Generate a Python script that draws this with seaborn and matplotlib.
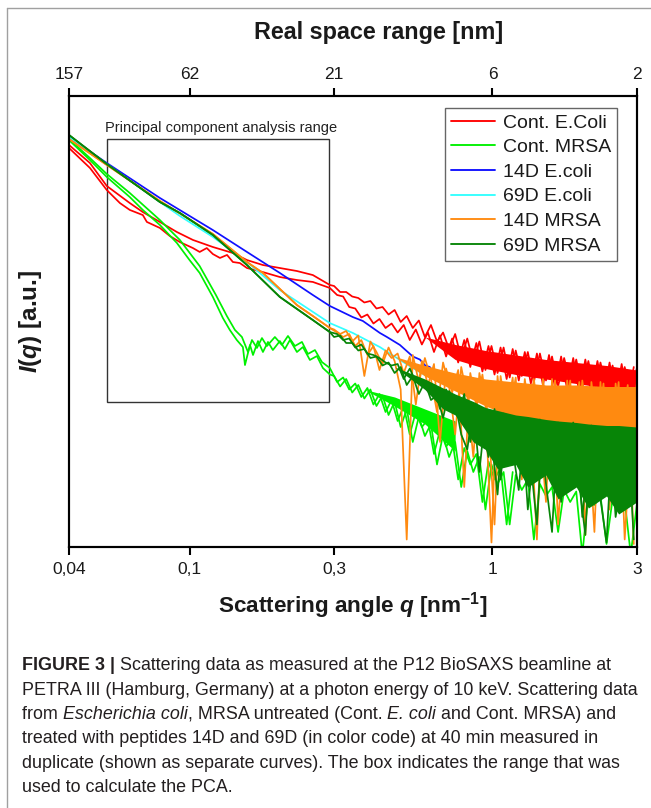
import numpy as np
import pandas as pd
import seaborn as sns
import matplotlib
matplotlib.use("Agg")
import matplotlib.pyplot as plt
from matplotlib import font_manager
from matplotlib.patches import Rectangle
from matplotlib.lines import Line2D
from matplotlib.ticker import NullLocator

# ---------------- data (q in nm^-1, intensities as log10 I, arbitrary units) ----------------
CONDITIONS = ["Cont. E.Coli", "Cont. MRSA", "14D E.coli", "69D E.coli", "14D MRSA", "69D MRSA"]
COLORS = ["#ff0000", "#00f000", "#1010ff", "#33ffff", "#ff8a10", "#078507"]

# shared high-q sampling grids (noisy region)
Q_GRID_A = [0.300, 0.3141, 0.3289, 0.3444, 0.3606, 0.3776, 0.3954, 0.4140, 0.4335, 0.4539,
            0.4753, 0.4977, 0.5211, 0.5457, 0.5714, 0.5983, 0.6265, 0.6560, 0.6869, 0.7192,
            0.7531, 0.7886, 0.8257, 0.8646, 0.9053, 0.9480, 0.9926, 1.0394, 1.0883, 1.1396,
            1.1933, 1.2495, 1.3083, 1.3699, 1.4344, 1.5020, 1.5727, 1.6468, 1.7243, 1.8055,
            1.8905, 1.9796, 2.0728, 2.1704, 2.2726, 2.3797, 2.4917, 2.6091, 2.7319, 2.8606,
            2.9953]
Q_GRID_B = [0.3070, 0.3214, 0.3366, 0.3524, 0.3690, 0.3864, 0.4046, 0.4236, 0.4436, 0.4645,
            0.4864, 0.5093, 0.5333, 0.5584, 0.5847, 0.6122, 0.6411, 0.6713, 0.7029, 0.7360,
            0.7706, 0.8069, 0.8449, 0.8847, 0.9264, 0.9701, 1.0157, 1.0636, 1.1137, 1.1661,
            1.2211, 1.2786, 1.3388, 1.4018, 1.4678, 1.5370, 1.6094, 1.6852, 1.7645, 1.8476,
            1.9346, 2.0257, 2.1211, 2.2210, 2.3256, 2.4352, 2.5498, 2.6699, 2.7956, 2.9273]

# Cont. E.coli, replicate a
Q_ECOLI_A_LOW = [0.040, 0.0469, 0.0533, 0.0635, 0.0701, 0.0798, 0.0908, 0.1026, 0.1194, 0.139,
                 0.1547, 0.1745, 0.1986, 0.226, 0.2553, 0.2904]
LOGI_ECOLI_A_LOW = [-0.32, -0.44, -0.593, -0.707, -0.767, -0.833, -0.90, -0.953, -1.0, -1.04,
                    -1.087, -1.12, -1.14, -1.16, -1.187, -1.253]
LOGI_ECOLI_A_HIGH = [-1.26, -1.30, -1.30, -1.33, -1.34, -1.37, -1.36, -1.41, -1.40, -1.45,
                     -1.42, -1.50, -1.46, -1.54, -1.49, -1.60, -1.52, -1.63, -1.57, -1.68,
                     -1.58, -1.74, -1.61, -1.77, -1.63, -1.82, -1.66, -1.84, -1.67, -1.87,
                     -1.69, -1.86, -1.70, -1.90, -1.71, -1.89, -1.73, -1.93, -1.74, -1.91,
                     -1.75, -1.94, -1.76, -1.96, -1.77, -1.95, -1.79, -1.98, -1.80, -1.97,
                     -1.81]
# Cont. E.coli, replicate b
Q_ECOLI_B_LOW = [0.040, 0.0469, 0.0533, 0.0589, 0.0635, 0.0701, 0.0723, 0.0798, 0.0861, 0.0929,
                 0.1026, 0.108, 0.1140, 0.1194, 0.126, 0.1330, 0.139, 0.1466, 0.1547, 0.1745,
                 0.1986, 0.226, 0.2553, 0.2904]
LOGI_ECOLI_B_LOW = [-0.34, -0.473, -0.62, -0.707, -0.753, -0.787, -0.833, -0.873, -0.927, -0.967,
                    -1.007, -1.033, -1.007, -1.047, -1.073, -1.053, -1.10, -1.107, -1.14, -1.167,
                    -1.20, -1.22, -1.233, -1.273]
LOGI_ECOLI_B_HIGH = [-1.32, -1.33, -1.40, -1.41, -1.47, -1.45, -1.51, -1.48, -1.54, -1.51,
                     -1.57, -1.52, -1.62, -1.55, -1.65, -1.57, -1.70, -1.59, -1.73, -1.61,
                     -1.77, -1.62, -1.80, -1.64, -1.83, -1.66, -1.85, -1.67, -1.88, -1.68,
                     -1.89, -1.70, -1.91, -1.71, -1.92, -1.72, -1.94, -1.73, -1.95, -1.74,
                     -1.97, -1.75, -1.98, -1.76, -1.99, -1.77, -2.01, -1.78, -2.02, -1.80]

# Cont. MRSA, replicate a
Q_MRSA_A_LOW = [0.0400, 0.0469, 0.0533, 0.0635, 0.0701, 0.0798, 0.0908, 0.1000, 0.1080, 0.1194,
                0.1288, 0.1358, 0.1432, 0.1500, 0.1524, 0.1583, 0.1620, 0.1682, 0.1747, 0.1815,
                0.1884, 0.1987, 0.2064, 0.2145, 0.2262, 0.2367, 0.2496, 0.2633, 0.2756, 0.2906]
LOGI_MRSA_A_LOW = [-0.287, -0.42, -0.533, -0.667, -0.753, -0.853, -0.973, -1.087, -1.173, -1.333,
                   -1.473, -1.553, -1.62, -1.667, -1.787, -1.653, -1.72, -1.627, -1.70, -1.633,
                   -1.687, -1.627, -1.68, -1.62, -1.70, -1.667, -1.753, -1.727, -1.807, -1.85]
LOGI_MRSA_A_HIGH = [-1.86, -1.93, -1.88, -1.97, -1.92, -2.01, -1.95, -2.06, -1.99, -2.12,
                    -2.03, -2.20, -2.08, -2.30, -2.13, -2.26, -2.18, -2.45, -2.25, -2.40,
                    -2.30, -2.60, -2.36, -2.50, -2.40, -2.75, -2.45, -2.58, -2.50, -2.85,
                    -2.52, -2.62, -2.55, -2.95, -2.58, -2.66, -2.60, -2.90, -2.62, -2.70,
                    -2.63, -3.05, -2.65, -2.72, -2.66, -2.98, -2.68, -2.75, -2.69, -3.05,
                    -2.72]
# Cont. MRSA, replicate b
Q_MRSA_B_LOW = [0.0400, 0.0469, 0.0533, 0.0635, 0.0798, 0.0929, 0.1080, 0.1222, 0.1328, 0.1412,
                0.1489, 0.1559, 0.1607, 0.1669, 0.1734, 0.1801, 0.1913, 0.2018, 0.2113, 0.2228,
                0.2350, 0.2459, 0.2594, 0.2735, 0.2906]
LOGI_MRSA_B_LOW = [-0.28, -0.407, -0.513, -0.64, -0.82, -0.953, -1.127, -1.32, -1.46, -1.553,
                   -1.60, -1.70, -1.62, -1.673, -1.607, -1.66, -1.60, -1.653, -1.593, -1.66,
                   -1.633, -1.713, -1.687, -1.767, -1.807]
LOGI_MRSA_B_HIGH = [-1.90, -1.87, -1.95, -1.91, -2.00, -1.94, -2.05, -1.98, -2.10, -2.02,
                    -2.16, -2.06, -2.25, -2.10, -2.20, -2.15, -2.38, -2.22, -2.33, -2.28,
                    -2.55, -2.34, -2.45, -2.38, -2.70, -2.43, -2.55, -2.47, -2.85, -2.50]

# 14D E.coli
Q_14D_ECOLI = [0.040, 0.0533, 0.0798, 0.1194, 0.1547, 0.1986, 0.2553, 0.2904, 0.3459, 0.3733,
               0.4249, 0.4483, 0.4948, 0.5459, 0.5757, 0.6000, 0.6211, 0.6400]
LOGI_14D_ECOLI = [-0.267, -0.44, -0.673, -0.887, -1.033, -1.173, -1.32, -1.393, -1.467, -1.493,
                  -1.573, -1.60, -1.653, -1.73, -1.75, -1.79, -1.80, -1.84]

# 69D E.coli
Q_69D_ECOLI = [0.040, 0.0533, 0.0798, 0.0929, 0.1194, 0.1547, 0.1986, 0.2904, 0.3459, 0.4249,
               0.4948, 0.5459, 0.5983]
LOGI_69D_ECOLI = [-0.267, -0.447, -0.70, -0.793, -0.933, -1.10, -1.287, -1.507, -1.573, -1.667,
                  -1.753, -1.807, -1.853]

# 14D MRSA
Q_14D_MRSA_LOW = [0.040, 0.0533, 0.0798, 0.1194, 0.1547, 0.1747, 0.2262, 0.2553, 0.2904]
LOGI_14D_MRSA_LOW = [-0.28, -0.453, -0.693, -0.913, -1.10, -1.173, -1.387, -1.46, -1.54]
LOGI_14D_MRSA_A_HIGH = [-1.55, -1.58, -1.56, -1.63, -1.59, -1.86, -1.63, -1.70, -1.78, -1.67,
                        -1.76, -1.95, -2.95, -1.72, -1.90, -1.74, -1.88, -2.10, -1.77, -1.93,
                        -2.25, -1.80, -2.00, -2.40, -1.84, -2.05, -2.97, -1.86, -2.30, -2.10,
                        -1.87, -2.55, -2.15, -1.88, -2.20, -2.70, -1.88, -2.85, -2.25, -1.89,
                        -2.45, -1.89, -2.22, -2.90, -1.90, -2.60, -2.28, -1.90, -2.95, -2.30,
                        -1.91]
LOGI_14D_MRSA_B_HIGH = [-1.57, -1.60, -1.58, -1.66, -1.62, -1.72, -1.66, -1.82, -1.69, -1.74,
                        -1.71, -1.84, -1.73, -2.05, -1.76, -1.92, -1.78, -2.30, -1.81, -1.97,
                        -1.82, -2.60, -1.84, -2.06, -1.85, -2.15, -2.85, -1.86, -2.12, -1.87,
                        -2.45, -1.88, -2.18, -2.95, -1.88, -2.20, -1.89, -2.65, -1.89, -2.22,
                        -1.90, -2.92, -1.90, -2.25, -1.91, -2.75, -1.91, -2.27, -1.92, -2.98]

# 69D MRSA
Q_69D_MRSA_LOW = [0.040, 0.0533, 0.0798, 0.0929, 0.1194, 0.1547, 0.1986, 0.2553, 0.2904]
LOGI_69D_MRSA_LOW = [-0.253, -0.447, -0.70, -0.773, -0.92, -1.12, -1.333, -1.487, -1.567]
LOGI_69D_MRSA_A_HIGH = [-1.58, -1.62, -1.61, -1.67, -1.65, -1.71, -1.72, -1.74, -1.77, -1.79,
                        -1.78, -1.88, -1.81, -1.90, -1.89, -1.95, -1.92, -2.08, -1.95, -2.04,
                        -2.12, -1.98, -2.30, -2.05, -2.18, -2.40, -2.08, -2.55, -2.12, -2.35,
                        -2.62, -2.14, -2.45, -2.85, -2.16, -2.52, -2.18, -2.70, -2.40, -2.17,
                        -2.58, -2.92, -2.19, -2.65, -2.45, -2.20, -2.80, -2.55, -2.21, -2.95]
LOGI_69D_MRSA_B_HIGH = [-1.60, -1.59, -1.64, -1.64, -1.69, -1.68, -1.74, -1.73, -1.79, -1.77,
                        -1.84, -1.80, -1.92, -1.86, -1.98, -1.90, -2.02, -1.99, -2.14, -1.96,
                        -2.03, -2.25, -2.35, -2.06, -2.50, -2.10, -2.28, -2.65, -2.11, -2.45,
                        -2.20, -2.14, -2.75, -2.35, -2.15, -2.58, -2.90, -2.17, -2.48, -2.62,
                        -2.18, -2.80, -2.40, -2.20, -2.68, -2.97, -2.21, -2.55, -2.72, -2.22,
                        -2.60]

# dense scatter bands of the noisy high-q data (upper / lower edge, log10 I)
RED_BAND_Q = [0.5983, 0.7531, 0.9480, 1.1933, 1.5020, 1.8905, 2.3797, 2.9953]
RED_BAND_HI = [-1.60, -1.65, -1.69, -1.72, -1.75, -1.77, -1.79, -1.82]
RED_BAND_LO = [-1.60, -1.75, -1.81, -1.85, -1.88, -1.91, -1.94, -1.96]
LIME_BAND_Q = [0.3776, 0.4753, 0.5983, 0.7531]
LIME_BAND_HI = [-1.95, -2.00, -2.08, -2.16]
LIME_BAND_LO = [-1.95, -2.06, -2.18, -2.36]
ORANGE_BAND_Q = [0.4753, 0.5983, 0.7531, 0.9480, 1.1933, 1.5020, 1.8905, 2.3797, 2.9953]
ORANGE_BAND_HI = [-1.73, -1.79, -1.84, -1.88, -1.90, -1.92, -1.92, -1.93, -1.93]
ORANGE_BAND_LO = [-1.73, -1.86, -1.96, -2.06, -2.14, -2.19, -2.22, -2.25, -2.27]
GREEN_BAND_Q = [0.4753, 0.5983, 0.6869, 0.7531, 0.8646, 0.9480, 1.0394, 1.1933, 1.3083, 1.5020,
                1.6468, 1.8905, 2.0728, 2.3797, 2.6091, 2.9953]
GREEN_BAND_HI = [-1.80, -1.88, -1.94, -1.98, -2.03, -2.07, -2.09, -2.12, -2.13, -2.15,
                 -2.16, -2.17, -2.18, -2.19, -2.19, -2.20]
GREEN_BAND_LO = [-1.80, -1.95, -2.08, -2.12, -2.30, -2.35, -2.48, -2.45, -2.60, -2.52,
                 -2.68, -2.60, -2.74, -2.66, -2.78, -2.70]

# PCA box (q range and log10 I range)
PCA_Q = [0.0533, 0.288]
PCA_LOGI = [-2.033, -0.28]

X_TICKS = [0.04, 0.1, 0.3, 1, 3]
X_TICKLABELS = ["0,04", "0,1", "0,3", "1", "3"]
TOP_TICKLABELS = ["157", "62", "21", "6", "2"]

CAPTION = [
    [("FIGURE 3 |", "bold"), (" Scattering data as measured at the P12 BioSAXS beamline at", "normal")],
    [("PETRA III (Hamburg, Germany) at a photon energy of 10 keV. Scattering data", "normal")],
    [("from ", "normal"), ("Escherichia coli", "italic"), (", MRSA untreated (Cont. ", "normal"),
     ("E. coli", "italic"), (" and Cont. MRSA) and", "normal")],
    [("treated with peptides 14D and 69D (in color code) at 40 min measured in", "normal")],
    [("duplicate (shown as separate curves). The box indicates the range that was", "normal")],
    [("used to calculate the PCA.", "normal")],
]

# ---------------- assemble long table ----------------
curves = [
    ("Cont. E.Coli", "a", Q_ECOLI_A_LOW + Q_GRID_A, LOGI_ECOLI_A_LOW + LOGI_ECOLI_A_HIGH),
    ("Cont. E.Coli", "b", Q_ECOLI_B_LOW + Q_GRID_B, LOGI_ECOLI_B_LOW + LOGI_ECOLI_B_HIGH),
    ("Cont. MRSA", "a", Q_MRSA_A_LOW + Q_GRID_A, LOGI_MRSA_A_LOW + LOGI_MRSA_A_HIGH),
    ("Cont. MRSA", "b", Q_MRSA_B_LOW + Q_GRID_B[:len(LOGI_MRSA_B_HIGH)], LOGI_MRSA_B_LOW + LOGI_MRSA_B_HIGH),
    ("14D E.coli", "a", Q_14D_ECOLI, LOGI_14D_ECOLI),
    ("69D E.coli", "a", Q_69D_ECOLI, LOGI_69D_ECOLI),
    ("14D MRSA", "a", Q_14D_MRSA_LOW + Q_GRID_A, LOGI_14D_MRSA_LOW + LOGI_14D_MRSA_A_HIGH),
    ("14D MRSA", "b", Q_14D_MRSA_LOW + Q_GRID_B, LOGI_14D_MRSA_LOW + LOGI_14D_MRSA_B_HIGH),
    ("69D MRSA", "a", Q_69D_MRSA_LOW + Q_GRID_B, LOGI_69D_MRSA_LOW + LOGI_69D_MRSA_A_HIGH),
    ("69D MRSA", "b", Q_69D_MRSA_LOW + Q_GRID_A, LOGI_69D_MRSA_LOW + LOGI_69D_MRSA_B_HIGH),
]
frames = []
for cond, rep, qs, ls in curves:
    n = min(len(qs), len(ls))
    frames.append(pd.DataFrame({"q": qs[:n], "I": 10 ** np.array(ls[:n]),
                                "condition": cond, "replicate": cond + rep}))
df = pd.concat(frames, ignore_index=True)

bands = {
    "Cont. E.Coli": (RED_BAND_Q, RED_BAND_HI, RED_BAND_LO),
    "Cont. MRSA": (LIME_BAND_Q, LIME_BAND_HI, LIME_BAND_LO),
    "14D MRSA": (ORANGE_BAND_Q, ORANGE_BAND_HI, ORANGE_BAND_LO),
    "69D MRSA": (GREEN_BAND_Q, GREEN_BAND_HI, GREEN_BAND_LO),
}

# ---------------- style ----------------
sns.set_theme(style="white")
plt.rcParams["font.family"] = ["Liberation Sans", "DejaVu Sans"]
plt.rcParams["mathtext.fontset"] = "custom"
plt.rcParams["mathtext.rm"] = "Liberation Sans:bold"
plt.rcParams["mathtext.it"] = "Liberation Sans:italic:bold"
plt.rcParams["mathtext.bf"] = "Liberation Sans:bold"

W, H = 651, 808
fig = plt.figure(figsize=(W / 100, H / 100), dpi=100)
fig.patch.set_facecolor("white")
ax = fig.add_axes([69 / W, 1 - 547 / H, (637 - 69) / W, (547 - 96) / H])
ax.set_xscale("log")
ax.set_yscale("log")

for i, (cond, col) in enumerate(zip(CONDITIONS, COLORS)):
    if cond in bands:
        bq, bhi, blo = bands[cond]
        ax.fill_between(bq, 10 ** np.array(bhi), 10 ** np.array(blo), color=col,
                        linewidth=0, zorder=3 + i)
    sns.lineplot(data=df[df["condition"] == cond], x="q", y="I", units="replicate",
                 estimator=None, sort=False, color=col, linewidth=1.25, ax=ax,
                 legend=False, zorder=3.5 + i)

ax.set_xlim(0.04, 3.0)
ax.set_ylim(10 ** -3.0, 10 ** 0.0067)
ax.set_xlabel("")
ax.set_ylabel("")
ax.yaxis.set_major_locator(NullLocator())
ax.yaxis.set_minor_locator(NullLocator())
ax.set_xticks(X_TICKS)
ax.set_xticklabels(X_TICKLABELS)
ax.xaxis.set_minor_locator(NullLocator())
ax.tick_params(axis="x", which="major", direction="out", length=6, width=1.5,
               labelsize=12.5, pad=5, color="black", labelcolor="#1a1a1a", bottom=True)
ax.tick_params(axis="y", left=False, labelleft=False)
for s in ax.spines.values():
    s.set_linewidth(1.5)
    s.set_color("black")
    s.set_zorder(20)

ax2 = ax.twiny()
ax2.set_xscale("log")
ax2.set_xlim(ax.get_xlim())
ax2.set_xticks(X_TICKS)
ax2.set_xticklabels(TOP_TICKLABELS)
ax2.xaxis.set_minor_locator(NullLocator())
ax2.tick_params(axis="x", which="major", direction="out", length=6, width=1.5,
                labelsize=12.5, pad=4, color="black", labelcolor="#1a1a1a", top=True)
for s in ax2.spines.values():
    s.set_linewidth(1.5)
    s.set_color("black")

# PCA box
ax.add_patch(Rectangle((PCA_Q[0], 10 ** PCA_LOGI[0]), PCA_Q[1] - PCA_Q[0],
                       10 ** PCA_LOGI[1] - 10 ** PCA_LOGI[0], fill=False,
                       edgecolor="#333333", linewidth=1.0, zorder=2))
ax.text(0.0525, 10 ** -0.207, "Principal component analysis range", fontsize=10.5,
        ha="left", va="center", color="#222222")

# legend
handles = [Line2D([0], [0], color=c, lw=1.35) for c in COLORS]
leg = ax.legend(handles, CONDITIONS, loc="upper right", bbox_to_anchor=(0.965, 0.973),
                fontsize=14, frameon=True, fancybox=False, edgecolor="#666666",
                framealpha=1, handlelength=2.3, handletextpad=0.4, labelspacing=0.36,
                borderpad=0.3, borderaxespad=0)
leg.set_zorder(30)
leg.get_frame().set_linewidth(1.0)
for t in leg.get_texts():
    t.set_color("#1a1a1a")

# axis titles
fig.text(379 / W, 1 - 32 / H, "Real space range [nm]", ha="center", va="center",
         fontsize=16.8, fontweight="bold", color="#1a1a1a")
fig.text(353 / W, 1 - 606 / H, "Scattering angle $q$ [nm$^{-1}$]", ha="center", va="center",
         fontsize=16.2, fontweight="bold", color="#1a1a1a")
fig.text(31 / W, 1 - 321 / H, "$I(q)$ [a.u.]", ha="center", va="center", rotation=90,
         fontsize=17.5, fontweight="bold", color="#1a1a1a")

# outer frame (left and top edges)
fig.add_artist(Line2D([7 / W, 7 / W], [0, 1 - 8 / H], transform=fig.transFigure,
                      color="#a0a0a0", lw=1.0))
fig.add_artist(Line2D([7 / W, 1], [1 - 8 / H, 1 - 8 / H], transform=fig.transFigure,
                      color="#a0a0a0", lw=1.0))

# caption
avail = {f.name for f in font_manager.fontManager.ttflist}
CAP_FONT = "Liberation Sans Narrow" if "Liberation Sans Narrow" in avail else "Liberation Sans"
renderer = fig.canvas.get_renderer()
probe = fig.text(0, 0, CAPTION[1][0][0], fontsize=12, family=CAP_FONT)
wprobe = probe.get_window_extent(renderer).width
probe.remove()
cap_size = 12 * 618 / wprobe

for i, line in enumerate(CAPTION):
    x = 22
    y = 665 + 5.5 + 24.3 * i
    for txt, style in line:
        t = fig.text(x / W, 1 - y / H, txt, fontsize=cap_size, family=CAP_FONT,
                     fontweight="bold" if style == "bold" else "normal",
                     fontstyle="italic" if style == "italic" else "normal",
                     ha="left", va="baseline", color="#231f20")
        x = t.get_window_extent(renderer).x1

fig.savefig("out.png", dpi=100, facecolor="white")
